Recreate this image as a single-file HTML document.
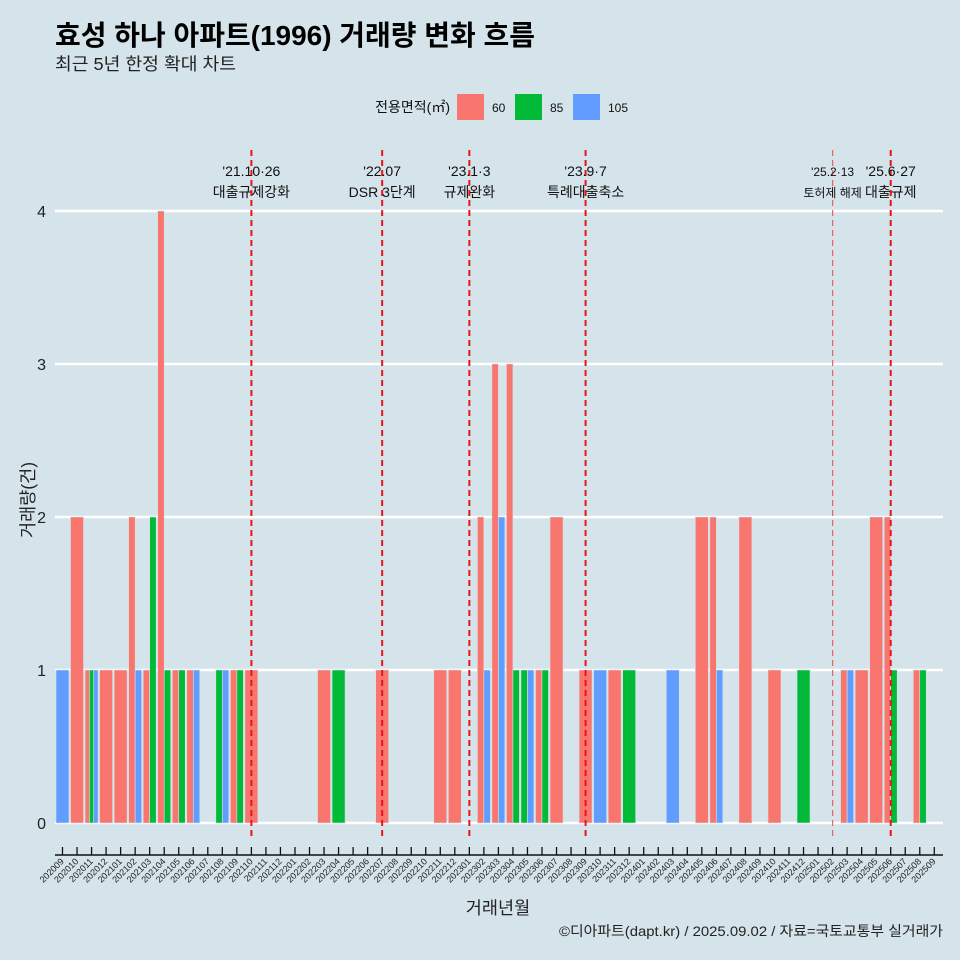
<!DOCTYPE html>
<html><head><meta charset="utf-8">
<style>
html,body{margin:0;padding:0;background:#d5e3ea;}
svg{display:block;font-family:"Liberation Sans","Noto Sans CJK KR",sans-serif;}
</style></head>
<body>
<svg id="chart" width="960" height="960" viewBox="0 0 960 960">
<rect x="0" y="0" width="960" height="960" fill="#d5e3ea"/>
<text x="55" y="45" font-size="28" font-weight="bold" fill="#000" textLength="480" lengthAdjust="spacingAndGlyphs">효성 하나 아파트(1996) 거래량 변화 흐름</text>
<text x="55" y="70" font-size="17.5" fill="#222" textLength="181" lengthAdjust="spacingAndGlyphs">최근 5년 한정 확대 차트</text>
<g>
<text x="450" y="112" font-size="14" text-anchor="end" fill="#111">전용면적(㎡)</text>
<rect x="457" y="94" width="27" height="26" fill="#f8766d"/>
<text x="492" y="112" font-size="12" fill="#111">60</text>
<rect x="515" y="94" width="27" height="26" fill="#00ba38"/>
<text x="550" y="112" font-size="12" fill="#111">85</text>
<rect x="573" y="94" width="27" height="26" fill="#619cff"/>
<text x="608" y="112" font-size="12" fill="#111">105</text>
</g>
<g id="grid"></g>
<g id="bars"></g>
<g id="events"></g>
<g id="axes"></g>
<text transform="translate(34,500) rotate(-90)" font-size="17.5" text-anchor="middle" fill="#222">거래량(건)</text>
<text x="498" y="914" font-size="17.5" text-anchor="middle" fill="#222">거래년월</text>
<text x="943" y="936" font-size="14" text-anchor="end" fill="#222" textLength="384" lengthAdjust="spacingAndGlyphs">©디아파트(dapt.kr) / 2025.09.02 / 자료=국토교통부 실거래가</text>
</svg>
<script>
const months = [];
for (let y = 2020, m = 9; y < 2025 || (y === 2025 && m <= 9); ) { months.push(y + String(m).padStart(2, '0')); m++; if (m > 12) { m = 1; y++; } }
const areas = ['60', '85', '105'];
const colors = ['#f8766d', '#00ba38', '#619cff'];
const vol60 = {202010:2,202011:1,202012:1,202101:1,202102:2,202103:1,202104:4,202105:1,202106:1,202109:1,202110:1,202203:1,202207:1,202211:1,202212:1,202302:2,202303:3,202304:3,202306:1,202307:2,202309:1,202311:1,202405:2,202406:2,202408:2,202410:1,202503:1,202504:1,202505:2,202506:2,202508:1};
const vol85 = {202011:1,202103:2,202104:1,202105:1,202108:1,202109:1,202204:1,202304:1,202305:1,202306:1,202312:1,202412:1,202506:1,202508:1};
const vol105 = {202009:1,202011:1,202102:1,202106:1,202108:1,202302:1,202303:2,202305:1,202310:1,202403:1,202406:1,202503:1};
const yTicks = [0, 1, 2, 3, 4];
const eventMonths = ['202110', '202207', '202301', '202309', '202502', '202506'];
const eventDates = ["'21.10·26", "'22.07", "'23.1·3", "'23.9·7", "'25.2·13", "'25.6·27"];
const eventLabels = ['대출규제강화', 'DSR 3단계', '규제완화', '특례대출축소', '토허제 해제', '대출규제'];

const NS = 'http://www.w3.org/2000/svg';
const X0 = 62.5, STEP = 14.53, Y0 = 823, YU = 153;
const xScale = i => X0 + i * STEP;
const yScale = v => Y0 - v * YU;
function mk(tag, attrs, parent) { const e = document.createElementNS(NS, tag); for (const k in attrs) e.setAttribute(k, attrs[k]); parent.appendChild(e); return e; }

const grid = document.getElementById('grid');
yTicks.forEach(t => {
  const l = mk('line', {x1: 55, x2: 943, y1: yScale(t), y2: yScale(t), stroke: '#fff', 'stroke-width': 2.4}, grid);
  
  
  const tx = mk('text', {x: 46, y: yScale(t) + 6, 'font-size': 16, 'text-anchor': 'end', fill: '#222'}, grid);
  tx.textContent = t;
  
  
});

const bars = document.getElementById('bars');
const series = [vol60, vol85, vol105];
const BW = 13;
months.forEach((mo, i) => {
  const present = [];
  series.forEach((s, k) => { if (s[mo]) present.push(k); });
  if (!present.length) return;
  const w = BW / present.length;
  present.forEach((k, j) => {
    const v = series[k][mo];
    const r = mk('rect', {x: xScale(i) - BW / 2 + j * w, y: yScale(v), width: w, height: yScale(0) - yScale(v), fill: colors[k], stroke: '#d5e3ea', 'stroke-width': 0.6}, bars);
    
    
  });
});

const ev = document.getElementById('events');
eventMonths.forEach((mo, n) => {
  const i = months.indexOf(mo);
  const x = xScale(i);
  const thin = mo === '202502';
  const l = mk('line', {x1: x, x2: x, y1: 150, y2: 838, stroke: thin ? '#f06060' : '#e8141a', 'stroke-width': thin ? 1.2 : 2, 'stroke-dasharray': '6,4'}, ev);
  
  
  const fs = thin ? 12 : 14;
  const t1 = mk('text', {x: x, y: 176, 'font-size': fs, 'text-anchor': 'middle', fill: '#111'}, ev);
  t1.textContent = eventDates[n];
  
  
  const t2 = mk('text', {x: x, y: 197, 'font-size': fs, 'text-anchor': 'middle', fill: '#111'}, ev);
  t2.textContent = eventLabels[n];
  
  
});

const ax = document.getElementById('axes');
const axl = mk('line', {x1: 55, x2: 943, y1: 855, y2: 855, stroke: '#111', 'stroke-width': 1.4}, ax);


months.forEach((mo, i) => {
  const x = xScale(i);
  const tk = mk('line', {x1: x, x2: x, y1: 847, y2: 855, stroke: '#111', 'stroke-width': 1.3}, ax);
  
  
  const t = mk('text', {x: x + 2, y: 862, 'font-size': 9, 'text-anchor': 'end', fill: '#222', transform: 'rotate(-45 ' + (x + 2) + ' 862)'}, ax);
  t.textContent = mo;
  
  
});
</script>
</body></html>
